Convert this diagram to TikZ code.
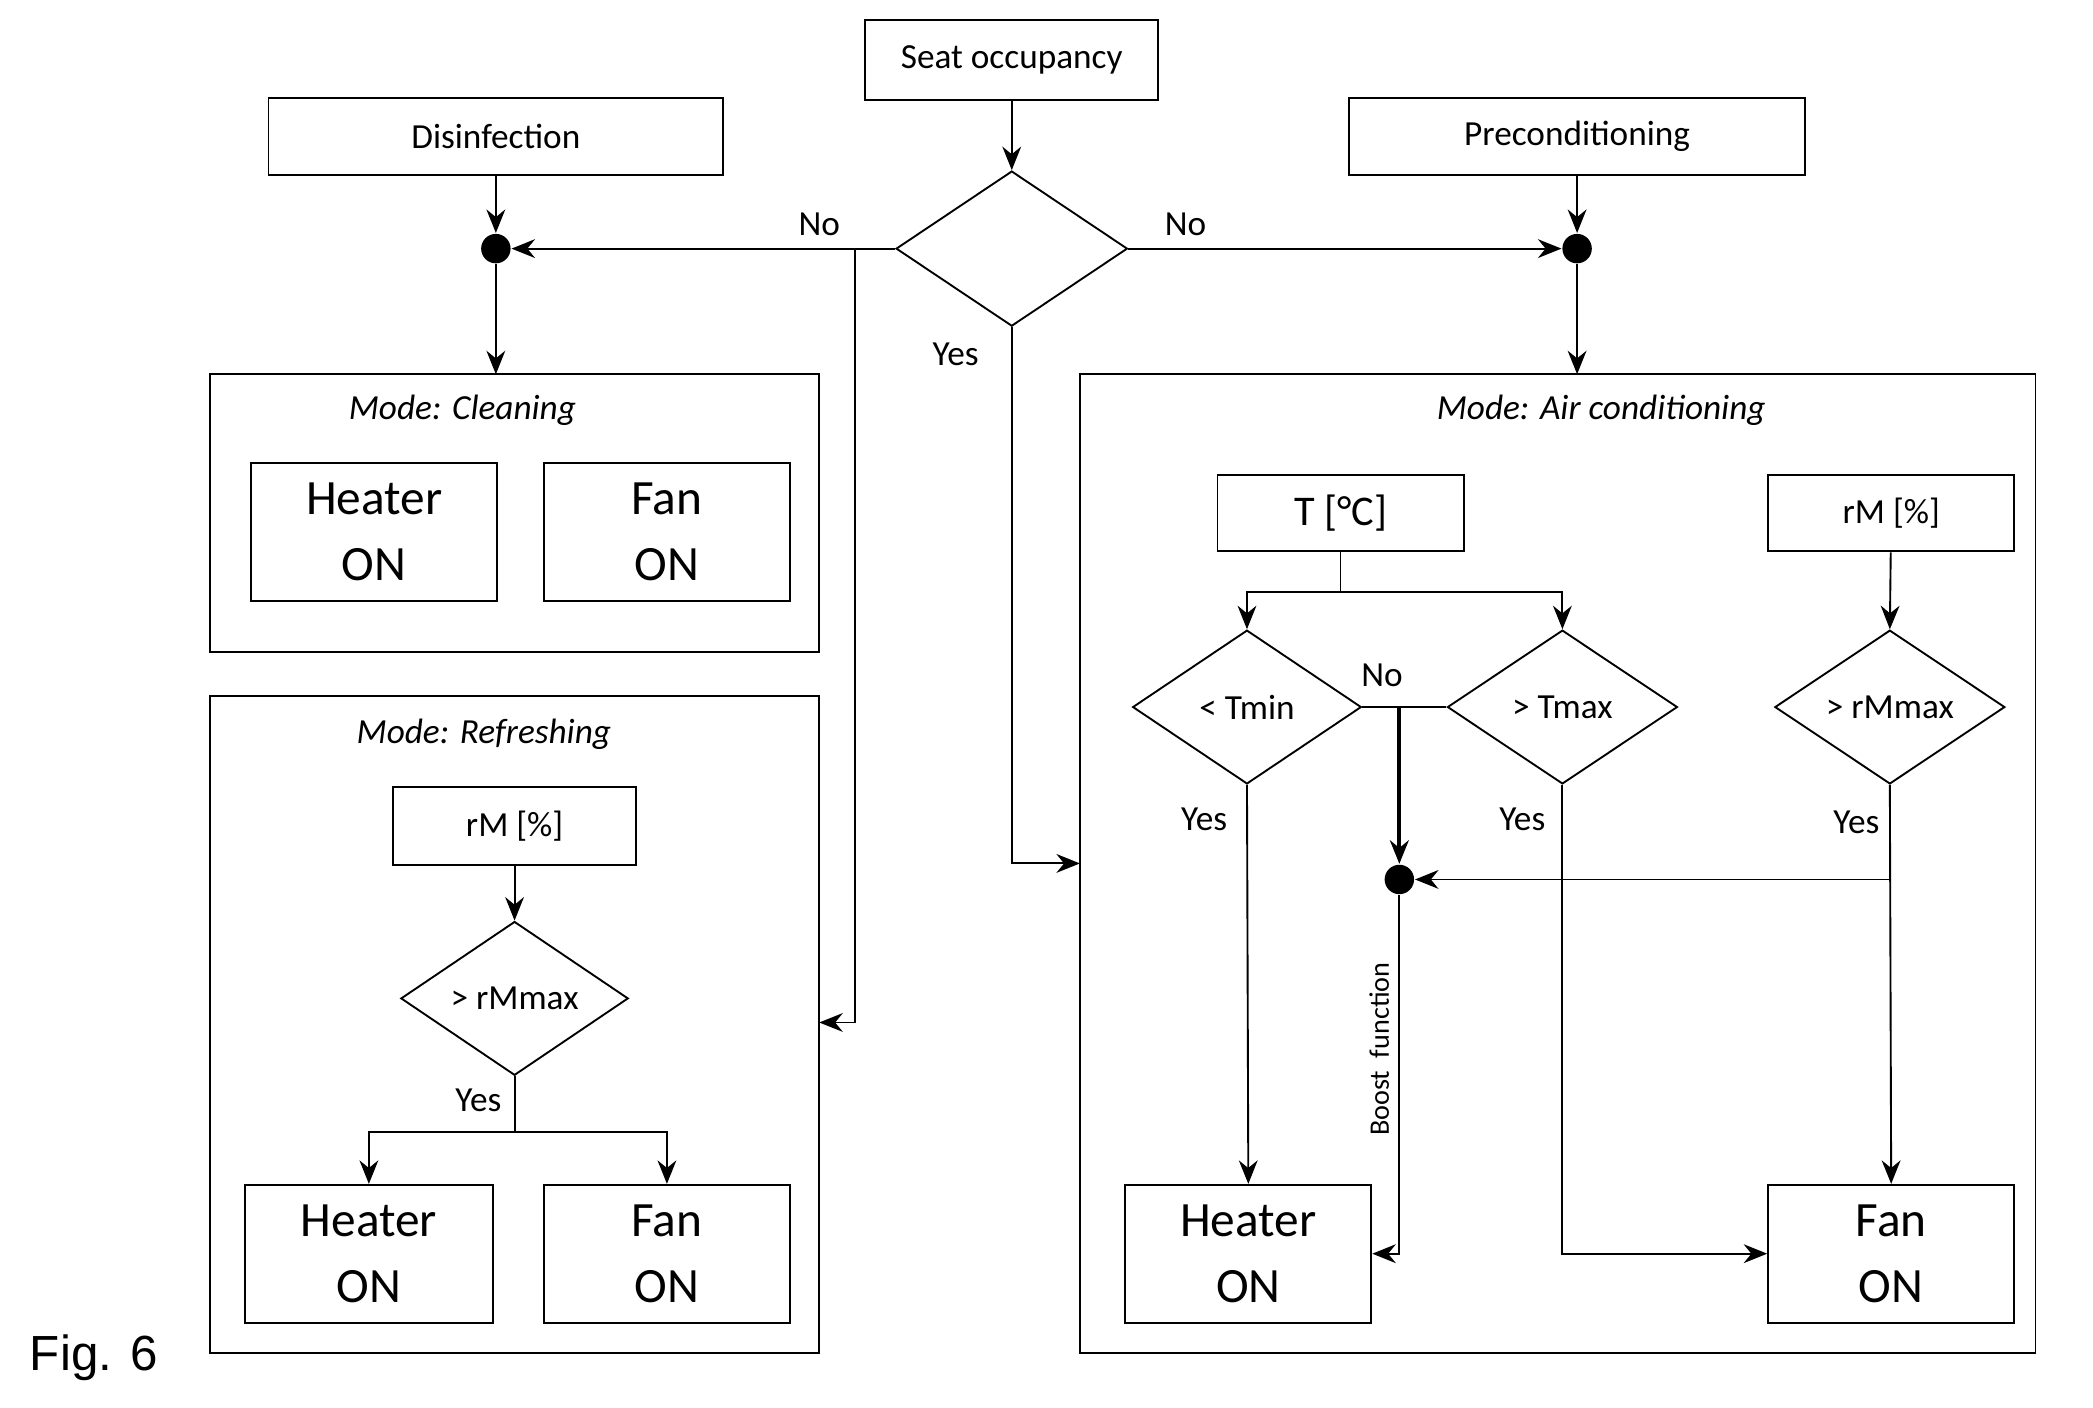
\documentclass[tikz,border=0pt]{standalone}
\usepackage{fontspec}
\setmainfont{Carlito}
\newfontfamily\figfont{Liberation Sans}
\usetikzlibrary{shapes.geometric,arrows.meta}
\begin{document}
\begin{tikzpicture}[x=0.01cm,y=-0.01cm,>={Stealth[length=5pt,width=4pt]},
  box/.style={draw,inner sep=0pt,font=\fontsize{7.5}{9}\selectfont},
  onbox/.style={draw,inner sep=0pt,minimum width=1.84cm,minimum height=1.03cm,align=center,font=\fontsize{10.5}{14}\selectfont},
  dec/.style={draw,diamond,aspect=1.5,inner sep=0pt,font=\fontsize{7.5}{9}\selectfont},
  lbl/.style={font=\fontsize{7.5}{9}\selectfont},
  ttl/.style={font=\fontsize{7.5}{9}\selectfont\itshape},
  dot/.style={circle,fill,inner sep=0pt,minimum size=0.22cm}]
\useasboundingbox (0,0) rectangle (1566,1053);
% top
\node[box,minimum width=2.19cm,minimum height=0.6cm] (seat) at (757,45) {Seat occupancy};
\node[box,minimum width=3.4cm,minimum height=0.58cm] (dis) at (371,102) {Disinfection};
\node[box,minimum width=3.41cm,minimum height=0.58cm] (pre) at (1180,102) {Preconditioning};
\node[dec,minimum width=1.73cm,minimum height=1.16cm] (occ) at (757,186) {};
\node[dot] (dl) at (371,186) {};
\node[dot] (dr) at (1180,186) {};
\node[lbl] at (613,168) {No};
\node[lbl] at (887,168) {No};
\node[lbl] at (715,265) {Yes};
% mode boxes
\draw (157,280) rectangle (613,488);
\draw (157,521) rectangle (613,1012);
\draw (808,280) rectangle (1523,1012);
\coordinate (clean) at (371,280);
\coordinate (refr) at (613,765);
\coordinate (air) at (808,646);
\coordinate (airtop) at (1180,280);
\node[ttl] at (346,307) {Mode: Cleaning};
\node[ttl] at (362,549) {Mode: Refreshing};
\node[ttl] at (1198,307) {Mode: Air conditioning};
% cleaning
\node[onbox] (ch) at (280,398) {Heater\\ON};
\node[onbox] (cf) at (499,398) {Fan\\ON};
% refreshing
\node[box,minimum width=1.82cm,minimum height=0.58cm] (rrm) at (385,618) {rM [\%]};
\node[dec,minimum width=1.7cm,minimum height=1.15cm] (rmax) at (385,747) {> rMmax};
\node[lbl] at (358,823) {Yes};
\node[onbox,minimum width=1.85cm] (rh) at (276,938) {Heater\\ON};
\node[onbox] (rf) at (499,938) {Fan\\ON};
% air conditioning
\node[box,minimum width=1.84cm,minimum height=0.57cm,font=\fontsize{9}{11}\selectfont] (temp) at (1003,384) {T [°C]};
\node[box,minimum width=1.84cm,minimum height=0.57cm] (arm) at (1415,384) {rM [\%]};
\node[dec,minimum width=1.71cm,minimum height=1.15cm] (tmin) at (933,529) {< Tmin};
\node[dec,minimum width=1.72cm,minimum height=1.15cm] (tmax) at (1169,529) {> Tmax};
\node[dec,minimum width=1.72cm,minimum height=1.15cm] (amax) at (1414,529) {> rMmax};
\node[lbl] at (1034,505) {No};
\node[lbl] at (901,613) {Yes};
\node[lbl] at (1139,613) {Yes};
\node[lbl] at (1389,615) {Yes};
\node[dot] (boost) at (1047,658) {};
\node[onbox] (ah) at (934,938) {Heater\\ON};
\node[onbox] (af) at (1415,938) {Fan\\ON};
\node[lbl,rotate=90,font=\fontsize{6}{7}\selectfont] at (1032,785) {Boost\ \ function};
\node[anchor=west,font=\figfont\fontsize{10.5}{12}\selectfont] at (10,1016) {Fig. 6};
% connectors
\draw[->] (seat) -- (occ.north);
\draw[->] (dis) -- (dl);
\draw[->] (pre) -- (dr);
\draw[->] (occ.west) -- (dl);
\draw[->] (occ.east) -- (dr);
\draw[->] (dl) -- (clean);
\draw[->] (dr) -- (airtop);
\draw[->] (640,186) |- (refr);
\draw[->] (occ.south) |- (air);
\draw[->] (rrm) -- (rmax.north);
\draw (rmax.south) -- (385,847);
\draw[->] (385,847) -| (rh.north);
\draw[->] (385,847) -| (rf.north);
\draw (temp) -- (1003,443);
\draw[->] (1003,443) -| (tmin.north);
\draw[->] (1003,443) -| (tmax.north);
\draw[->] (arm) -- (amax.north);
\draw (tmin.east) -- (tmax.west);
\draw[->,thick] (1047,529) -- (boost);
\draw[->] (tmin.south) -- (ah.north);
\draw[->] (tmax.south) |- (af.west);
\draw[->] (amax.south) -- (af.north);
\draw[->] (1414,658) -- (boost);
\draw[->] (boost) |- (ah.east);
\end{tikzpicture}
\end{document}
